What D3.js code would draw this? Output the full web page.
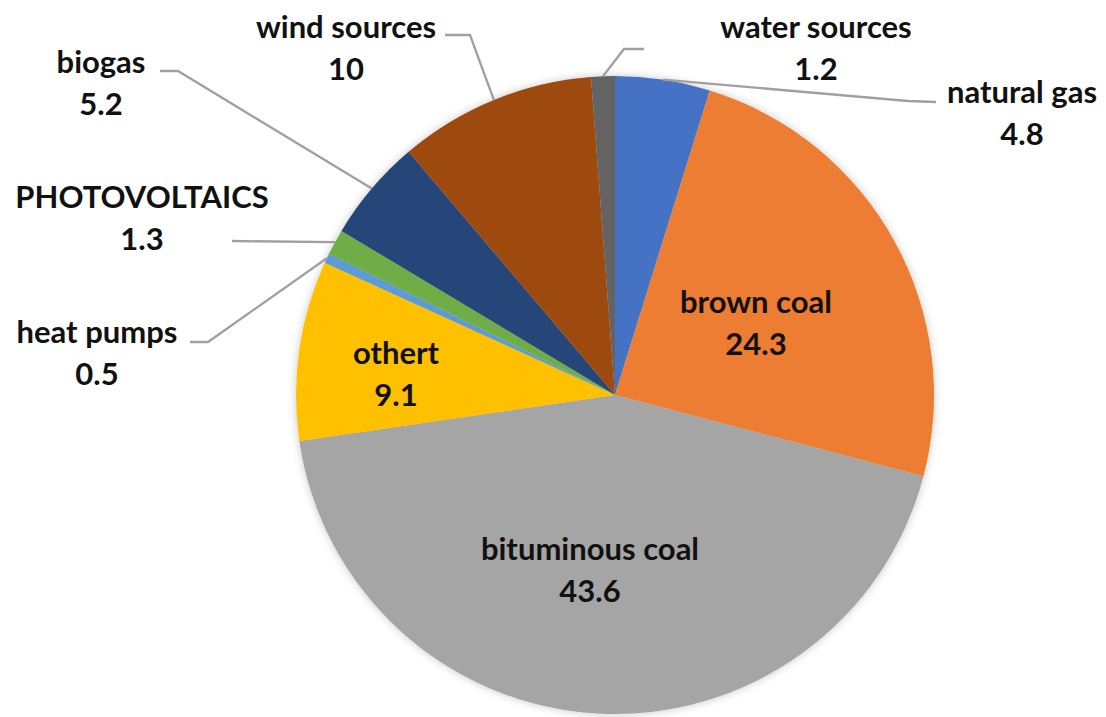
<!DOCTYPE html>
<html>
<head>
<meta charset="utf-8">
<script src="https://cdn.jsdelivr.net/npm/d3@7"></script>
<style>
    body { margin: 0; background: #fff; }
    svg { display: block; }
</style>
</head>
<body>
<div id="chart"></div>
<script>
// Energy mix, % share
const categories = ["natural gas", "brown coal", "bituminous coal", "othert", "heat pumps",
    "PHOTOVOLTAICS", "biogas", "wind sources", "water sources"];
const values = [4.8, 24.3, 43.6, 9.1, 0.5, 1.3, 5.2, 10, 1.2];
const colors = ["#4472C4", "#ED7D31", "#A5A5A5", "#FFC000", "#5B9BD5",
    "#70AD47", "#264478", "#9E480E", "#636363"];

const width = 1106, height = 717;
const cx = 615, cy = 395, radius = 319;

// where each label sits (centre of first line) and the leader bend points
const labelLayout = {
    "natural gas":     { x: 1022, y: 92,  leader: [[908, 101], [936, 102]] },
    "brown coal":      { x: 756,  y: 302 },
    "bituminous coal": { x: 590,  y: 549 },
    "othert":          { x: 396,  y: 353 },
    "heat pumps":      { x: 97,   y: 332, leader: [[208, 342], [190, 342]] },
    "PHOTOVOLTAICS":   { x: 142,  y: 197, leader: [[232, 241]] },
    "biogas":          { x: 101,  y: 62,  leader: [[178, 71], [160, 71]] },
    "wind sources":    { x: 346,  y: 27,  leader: [[470, 35], [445, 35]] },
    "water sources":   { x: 816,  y: 27,  leader: [[624, 49], [644, 49]] }
};

const data = categories.map((c, i) => ({ name: c, value: values[i], color: colors[i] }));

const svg = d3.select("#chart")
    .append("svg")
    .attr("width", width)
    .attr("height", height);

// soft halo round the pie
const defs = svg.append("defs");
const filter = defs.append("filter")
    .attr("id", "halo")
    .attr("x", "-10%").attr("y", "-10%")
    .attr("width", "120%").attr("height", "120%");
filter.append("feDropShadow")
    .attr("dx", 0).attr("dy", 0)
    .attr("stdDeviation", 4)
    .attr("flood-color", "#000")
    .attr("flood-opacity", 0.22);

const pie = d3.pie()
    .sort(null)
    .value(d => d.value);

const arc = d3.arc()
    .innerRadius(0)
    .outerRadius(radius);

const edgeArc = d3.arc()
    .innerRadius(radius)
    .outerRadius(radius);

const arcs = pie(data);

const g = svg.append("g")
    .attr("transform", `translate(${cx},${cy})`);

g.append("g")
    .attr("filter", "url(#halo)")
    .selectAll("path.slice")
    .data(arcs)
    .enter()
    .append("path")
    .attr("class", "slice")
    .attr("d", arc)
    .attr("fill", d => d.data.color);

// leader lines: from slice edge midpoint through the bend points
const line = d3.line();
svg.selectAll("path.leader")
    .data(arcs.filter(d => labelLayout[d.data.name].leader))
    .enter()
    .append("path")
    .attr("class", "leader")
    .attr("d", d => {
        const c = edgeArc.centroid(d);
        const pts = [[cx + c[0], cy + c[1]]].concat(labelLayout[d.data.name].leader);
        return line(pts);
    })
    .attr("fill", "none")
    .attr("stroke", "#a0a0a0")
    .attr("stroke-width", 2.3);

// labels
const labels = svg.selectAll("text.label")
    .data(arcs)
    .enter()
    .append("text")
    .attr("class", "label")
    .attr("text-anchor", "middle")
    .attr("font-family", "Lato, 'Open Sans', sans-serif")
    .attr("font-weight", "bold")
    .attr("font-size", "31px")
    .attr("fill", "#111");

labels.append("tspan")
    .attr("x", d => labelLayout[d.data.name].x)
    .attr("y", d => labelLayout[d.data.name].y + 11)
    .text(d => d.data.name);

labels.append("tspan")
    .attr("x", d => labelLayout[d.data.name].x)
    .attr("y", d => labelLayout[d.data.name].y + 53)
    .text(d => d.data.value);
</script>
</body>
</html>
